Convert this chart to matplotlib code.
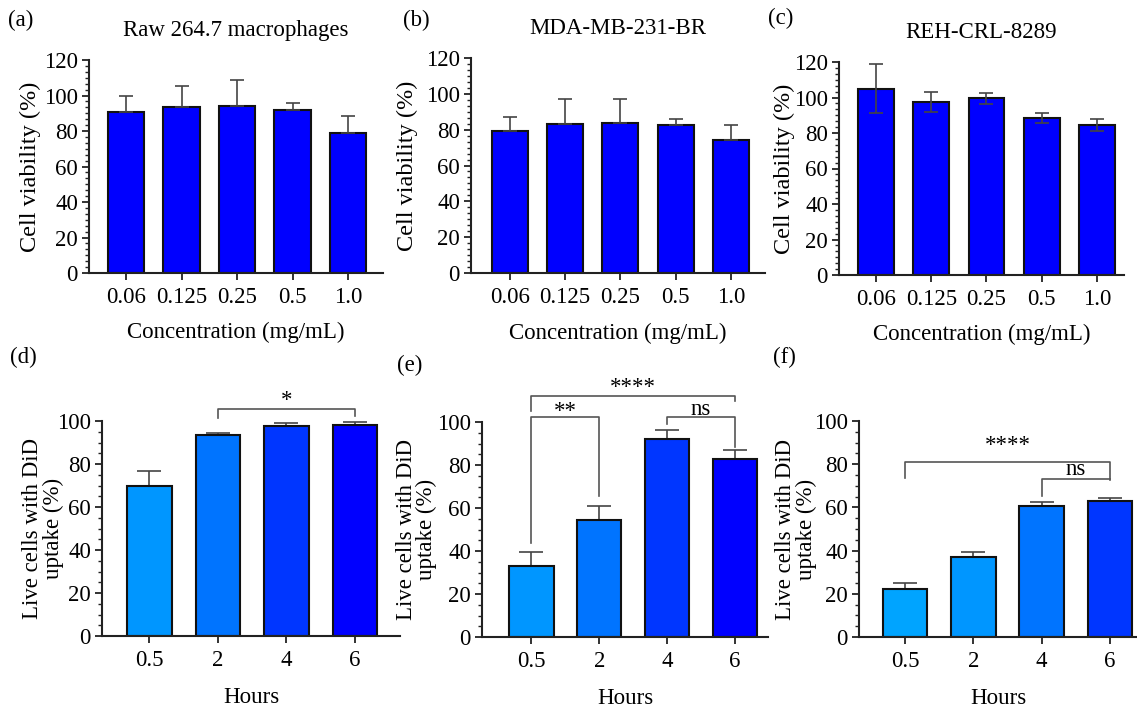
import numpy as np
import matplotlib
matplotlib.use('Agg')
import matplotlib.pyplot as plt
from matplotlib.ticker import MultipleLocator, AutoMinorLocator

plt.rcParams['font.family'] = ['Liberation Serif', 'DejaVu Serif']

W, H = 1137, 708

# viability panels (a)-(c)
conc_labels = ['0.06', '0.125', '0.25', '0.5', '1.0']
raw_mean = [90.5, 93.5, 94.0, 92.0, 79.0]
raw_sd = [9.5, 12.0, 14.5, 4.0, 9.5]
mda_mean = [79.0, 83.0, 84.0, 82.5, 74.0]
mda_sd = [8.0, 14.0, 13.0, 3.5, 8.5]
reh_mean = [105.0, 97.5, 99.5, 88.5, 84.5]
reh_sd = [14.0, 5.5, 3.0, 2.8, 3.5]

# DiD uptake panels (d)-(f)
hours_labels = ['0.5', '2', '4', '6']
raw_uptake = [69.8, 93.3, 97.7, 98.3]
raw_uptake_sd = [7.0, 1.0, 1.2, 1.4]
mda_uptake = [33.0, 54.5, 92.3, 83.0]
mda_uptake_sd = [6.5, 6.5, 4.0, 4.0]
reh_uptake = [22.2, 36.9, 60.5, 63.0]
reh_uptake_sd = [3.0, 2.3, 1.9, 1.5]

raw_colors = ['#0096FF', '#0074FF', '#0036FF', '#0000FF']
mda_colors = ['#0096FF', '#0074FF', '#0036FF', '#0000FF']
reh_colors = ['#00A4FF', '#0096FF', '#0074FF', '#0036FF']


def add_ax(left, right, top, bottom):
    return fig.add_axes([left / W, 1 - bottom / H, (right - left) / W, (bottom - top) / H])


def style(ax, ymax, minor_n):
    ax.spines['top'].set_visible(False)
    ax.spines['right'].set_visible(False)
    for s in ['left', 'bottom']:
        ax.spines[s].set_linewidth(1.5)
        ax.spines[s].set_color('#222222')
    ax.set_ylim(0, ymax)
    ax.yaxis.set_major_locator(MultipleLocator(20))
    ax.yaxis.set_minor_locator(AutoMinorLocator(minor_n))
    ax.tick_params(axis='both', which='major', length=5, width=1.3, labelsize=16.5, pad=3, color='#222222')
    ax.tick_params(axis='y', which='minor', length=3, width=1.0, color='#222222')
    ax.tick_params(axis='x', which='minor', length=0)


def place_labels(ax, ylab_x, xlab_y):
    ax.yaxis.set_label_coords(ylab_x, 0.5)
    ax.yaxis.label.set_va('center')
    ax.xaxis.set_label_coords(0.5, xlab_y)
    ax.xaxis.label.set_va('center')


def viability(ax, mean, sd, title, xlim, ylab_x, xlab_y, both=False):
    x = np.arange(len(mean))
    ax.bar(x, mean, width=0.65, color='#0000FF', edgecolor='#111111', linewidth=1.5, zorder=2)
    if both:
        err = [sd, sd]
    else:
        err = [np.zeros(len(sd)), sd]
    ax.errorbar(x, mean, yerr=err, fmt='none', ecolor='#444444', elinewidth=1.2,
                capsize=4.7, capthick=1.2, zorder=3)
    style(ax, 120, 6)
    ax.set_xlim(*xlim)
    ax.set_xticks(x)
    ax.set_xticklabels(conc_labels)
    ax.tick_params(axis='x', pad=5)
    ax.set_ylabel('Cell viability (%)', fontsize=17.5)
    ax.set_xlabel('Concentration (mg/mL)', fontsize=16.5)
    place_labels(ax, ylab_x, xlab_y)
    ax.set_title(title, fontsize=16.5, pad=17)


def uptake(ax, mean, sd, colors, xlim, ylab_x):
    x = np.arange(len(mean))
    ax.bar(x, mean, width=0.65, color=colors, edgecolor='#111111', linewidth=1.5, zorder=2)
    ax.errorbar(x, mean, yerr=[np.zeros(len(sd)), sd], fmt='none', ecolor='#444444',
                elinewidth=1.2, capsize=8.4, capthick=1.2, zorder=1)
    style(ax, 100, 4)
    ax.set_xlim(*xlim)
    ax.set_xticks(x)
    ax.set_xticklabels(hours_labels)
    ax.tick_params(axis='x', pad=5)
    ax.set_ylabel('Live cells with DiD\nuptake (%)', fontsize=16.5, linespacing=0.95)
    ax.set_xlabel('Hours', fontsize=16.5)
    place_labels(ax, ylab_x, -0.285)


def bracket(ax, i, j, y, yl, yr, label, ty):
    ax.plot([i, i, j, j], [yl, y, y, yr], color='#555555', lw=1.2, clip_on=False, zorder=4)
    ax.text((i + j) / 2, ty, label, ha='center', va='center', fontsize=16.5, clip_on=False)


fig = plt.figure(figsize=(W / 100, H / 100), dpi=100)

ax_a = add_ax(89, 383, 60, 273)
viability(ax_a, raw_mean, raw_sd, 'Raw 264.7 macrophages', (-0.667, 4.63), -0.20, -0.28)
ax_b = add_ax(471, 765, 58, 273)
viability(ax_b, mda_mean, mda_sd, 'MDA-MB-231-BR', (-0.706, 4.62), -0.216, -0.28)
ax_c = add_ax(839, 1124, 62, 275)
viability(ax_c, reh_mean, reh_sd, 'REH-CRL-8289', (-0.67, 4.49), -0.193, -0.28, both=True)

ax_d = add_ax(102, 400, 421, 636)
uptake(ax_d, raw_uptake, raw_uptake_sd, raw_colors, (-0.69, 3.66), -0.198)
bracket(ax_d, 1, 3, 105.4, 101.3, 102.3, '*', 109.5)

ax_e = add_ax(482, 768, 422, 637)
uptake(ax_e, mda_uptake, mda_uptake_sd, mda_colors, (-0.73, 3.49), -0.228)
bracket(ax_e, 0, 3, 112.3, 105.0, 109.6, '****', 116.0)
bracket(ax_e, 0, 1, 102.2, 43.8, 65.6, '**', 105.0)
bracket(ax_e, 2, 3, 102.2, 99.2, 88.2, 'ns', 105.8)

ax_f = add_ax(859, 1137, 421, 637)
uptake(ax_f, reh_uptake, reh_uptake_sd, reh_colors, (-0.68, 3.40), -0.227)
bracket(ax_f, 0, 3, 81.1, 73.4, 72.6, '****', 88.5)
bracket(ax_f, 2, 3, 73.0, 65.4, 73.0, 'ns', 77.6)

for lab, px, py in [('(a)', 8, 20), ('(b)', 403, 20), ('(c)', 768, 18),
                    ('(d)', 10, 357), ('(e)', 397, 365), ('(f)', 773, 357)]:
    fig.text(px / W, 1 - py / H, lab, fontsize=16.5, ha='left', va='center')

fig.savefig('out.png', dpi=100)
